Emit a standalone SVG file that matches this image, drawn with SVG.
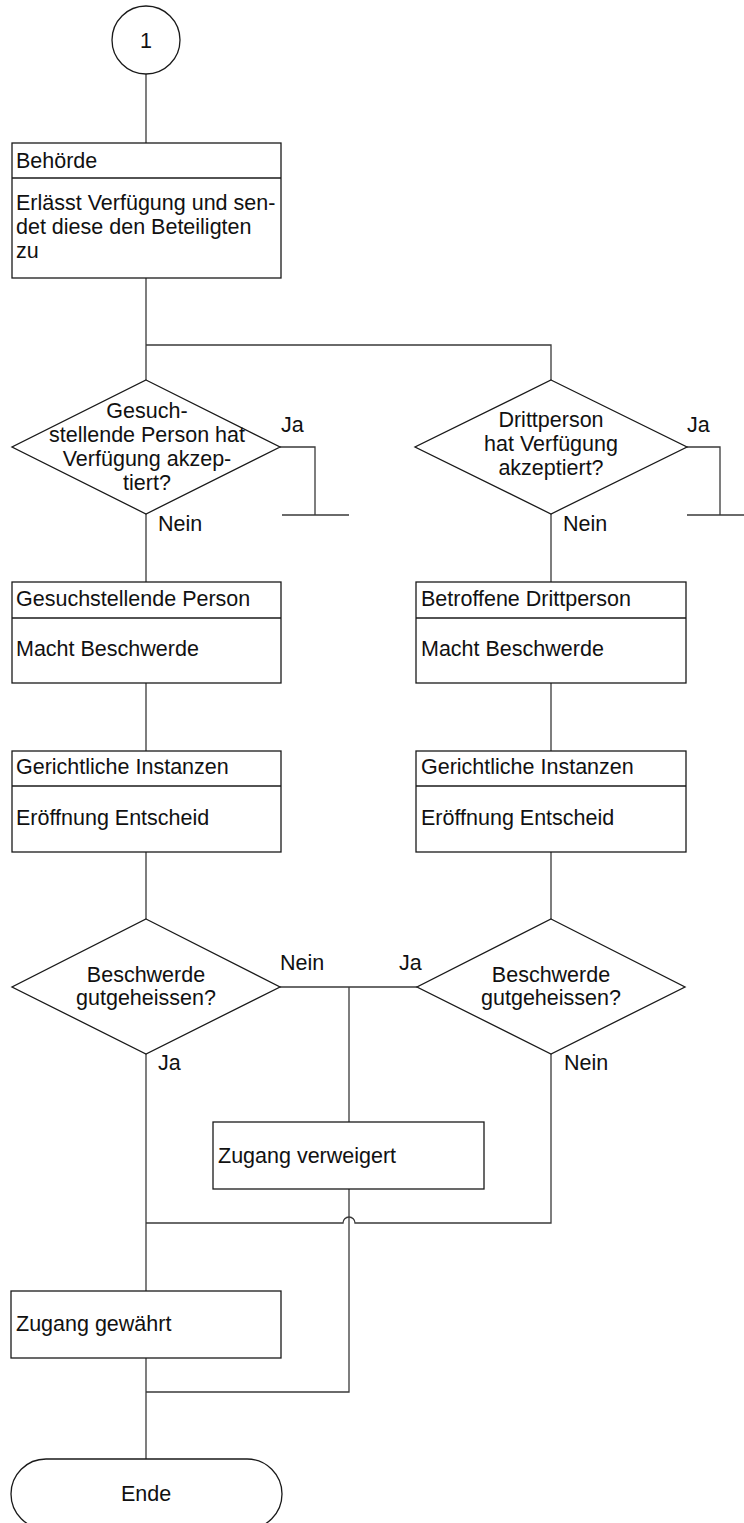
<svg xmlns="http://www.w3.org/2000/svg" width="744" height="1523" viewBox="0 0 744 1523">
<style>
.s{fill:#fff;stroke:#1a1a1a;stroke-width:1.3}
.c{fill:none;stroke:#3a3a3a;stroke-width:1.3}
text{font-family:"Liberation Sans",Arial,sans-serif;font-size:21.5px;fill:#111}
.m{text-anchor:middle}
</style>
<rect width="744" height="1523" fill="#fff"/>
<g id="connectors">
<path class="c" d="M146,74 V143"/>
<path class="c" d="M146,278 V380 M146,345 H551 V380"/>
<path class="c" d="M280,447 H315 V515 M282,515 H349"/>
<path class="c" d="M687,447 H720 V515 M687,515 H744"/>
<path class="c" d="M146,514 V582 M551,514 V582"/>
<path class="c" d="M146,683 V751 M551,683 V751"/>
<path class="c" d="M146,852 V919 M551,852 V919"/>
<path class="c" d="M280,987 H417 M349,987 V1122"/>
<path class="c" d="M349,1189 V1392 H146"/>
<path class="c" d="M551,1054 V1223 H355 A6,6 0 0 0 343,1223 H146"/>
<path class="c" d="M146,1054 V1291"/>
<path class="c" d="M146,1358 V1459"/>
<text x="281" y="432">Ja</text>
<text x="158" y="531">Nein</text>
<text x="687" y="432">Ja</text>
<text x="563" y="531">Nein</text>
<text x="280" y="970">Nein</text>
<text x="158" y="1070">Ja</text>
<text x="399" y="970">Ja</text>
<text x="564" y="1070">Nein</text>
</g>
<g id="start">
<circle class="s" cx="146" cy="40" r="34"/>
<text class="m" x="146" y="48">1</text>
</g>
<g id="behoerde">
<rect class="s" x="12" y="143" width="269" height="135"/>
<path class="s" d="M12,178 H281"/>
<text x="16" y="168">Behörde</text>
<text x="16" y="210">Erlässt Verfügung und sen-</text>
<text x="16" y="234">det diese den Beteiligten</text>
<text x="16" y="258">zu</text>
</g>
<g id="dec1">
<polygon class="s" points="146,380 280,447 146,514 12,447"/>
<text class="m" x="147" y="418">Gesuch-</text>
<text class="m" x="147" y="442">stellende Person hat</text>
<text class="m" x="147" y="466">Verfügung akzep-</text>
<text class="m" x="147" y="490">tiert?</text>
</g>
<g id="dec2">
<polygon class="s" points="551,380 687,447 551,514 415,447"/>
<text class="m" x="551" y="427">Drittperson</text>
<text class="m" x="551" y="451">hat Verfügung</text>
<text class="m" x="551" y="475">akzeptiert?</text>
</g>
<g id="gesuch">
<rect class="s" x="12" y="582" width="269" height="101"/>
<path class="s" d="M12,618 H281"/>
<text x="16" y="606">Gesuchstellende Person</text>
<text x="16" y="656">Macht Beschwerde</text>
</g>
<g id="dritt">
<rect class="s" x="416" y="582" width="270" height="101"/>
<path class="s" d="M416,618 H686"/>
<text x="421" y="606">Betroffene Drittperson</text>
<text x="421" y="656">Macht Beschwerde</text>
</g>
<g id="gericht1">
<rect class="s" x="12" y="751" width="269" height="101"/>
<path class="s" d="M12,786 H281"/>
<text x="16" y="774">Gerichtliche Instanzen</text>
<text x="16" y="825">Eröffnung Entscheid</text>
</g>
<g id="gericht2">
<rect class="s" x="416" y="751" width="270" height="101"/>
<path class="s" d="M416,786 H686"/>
<text x="421" y="774">Gerichtliche Instanzen</text>
<text x="421" y="825">Eröffnung Entscheid</text>
</g>
<g id="dec3">
<polygon class="s" points="146,919 280,987 146,1054 12,987"/>
<text class="m" x="146" y="982">Beschwerde</text>
<text class="m" x="146" y="1005">gutgeheissen?</text>
</g>
<g id="dec4">
<polygon class="s" points="551,919 685,987 551,1054 417,987"/>
<text class="m" x="551" y="982">Beschwerde</text>
<text class="m" x="551" y="1005">gutgeheissen?</text>
</g>
<g id="verweigert">
<rect class="s" x="213" y="1122" width="271" height="67"/>
<text x="218" y="1163">Zugang verweigert</text>
</g>
<g id="gewaehrt">
<rect class="s" x="11" y="1291" width="270" height="67"/>
<text x="16" y="1331">Zugang gewährt</text>
</g>
<g id="ende">
<rect class="s" x="11" y="1459" width="271" height="70" rx="35"/>
<text class="m" x="146" y="1501">Ende</text>
</g>
</svg>
